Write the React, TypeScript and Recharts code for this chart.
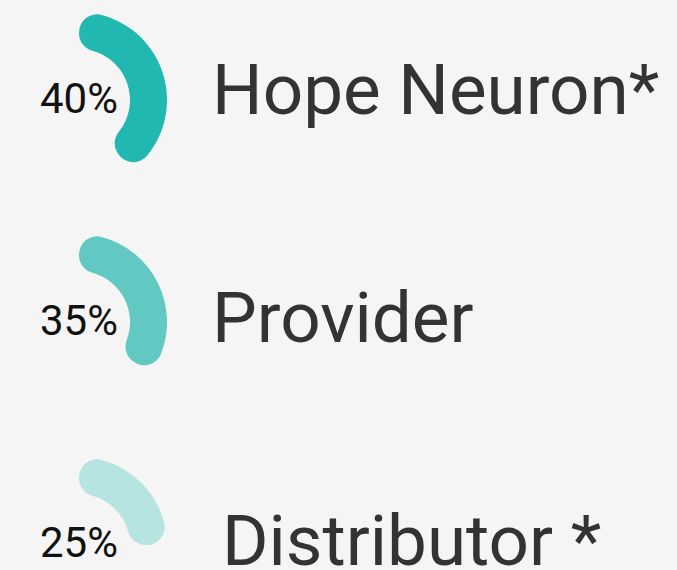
import { RadialBarChart, RadialBar, PolarAngleAxis } from "recharts";

const names = ["Hope Neuron*", "Provider", "Distributor *"];
const shares = [40, 35, 25];
const colors = ["#20b8b0", "#62c9c2", "#b6e4e1"];

// row layout (px)
const centersY = [100, 322, 545];
const nameX = [212, 212, 222];
const nameBaseline = [114, 342, 565];
const pctBaseline = [113, 335, 557];

const CX = 79;
const BOX = 190;

export default function App() {
  return (
    <div
      style={{
        position: "absolute",
        left: 0,
        top: 0,
        width: 677,
        height: 570,
        background: "#f5f5f5",
        overflow: "hidden",
      }}
    >
      {shares.map((v, i) => (
        <div
          key={names[i]}
          style={{ position: "absolute", left: 0, top: centersY[i] - BOX / 2 }}
        >
          <RadialBarChart
            width={BOX}
            height={BOX}
            cx={CX}
            cy={BOX / 2}
            innerRadius={51}
            outerRadius={88}
            startAngle={90}
            endAngle={-270}
            barCategoryGap={0}
            margin={{ top: 0, right: 0, bottom: 0, left: 0 }}
            data={[{ name: names[i], value: v }]}
          >
            <PolarAngleAxis
              type="number"
              domain={[0, 100]}
              tick={false}
              axisLine={false}
            />
            <RadialBar
              dataKey="value"
              fill={colors[i]}
              cornerRadius={18}
              isAnimationActive={false}
            />
          </RadialBarChart>
        </div>
      ))}
      <svg
        width={677}
        height={570}
        style={{ position: "absolute", left: 0, top: 0, pointerEvents: "none" }}
      >
        {shares.map((v, i) => (
          <g key={names[i]} fontFamily="Roboto">
            <text x={CX} y={pctBaseline[i]} fontSize={42} textAnchor="middle" fill="#111">
              {v}%
            </text>
            <text x={nameX[i]} y={nameBaseline[i]} fontSize={71} fill="#333">
              {names[i]}
            </text>
          </g>
        ))}
      </svg>
    </div>
  );
}
